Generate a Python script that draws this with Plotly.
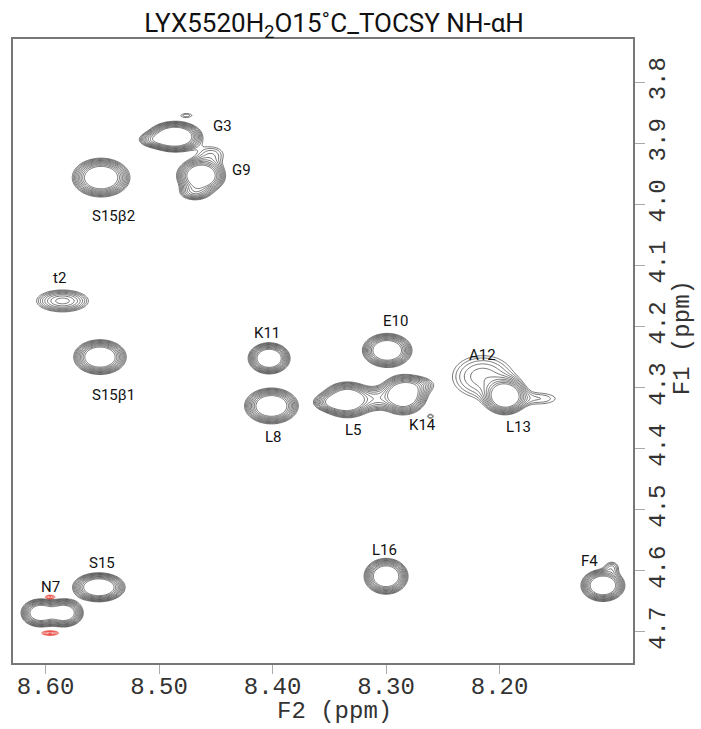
import numpy as np
import plotly.graph_objects as go

# ---- peak components (F2 ppm, F1 ppm, sigma F2, sigma F1, relative intensity) ----
comp_f2 = [8.486, 8.463, 8.551, 8.585, 8.552, 8.403, 8.401, 8.299, 8.334, 8.285,
           8.215, 8.195, 8.300, 8.109, 8.553, 8.6046, 8.5836,
           8.5046, 8.4757, 8.4686, 8.4536, 8.348, 8.2713, 8.2608, 8.1643, 8.1011, 8.309]
comp_f1 = [3.889, 3.953, 3.956, 4.158, 4.250, 4.252, 4.330, 4.239, 4.320, 4.312,
           4.282, 4.314, 4.609, 4.624, 4.627, 4.669, 4.669,
           3.894, 3.854, 3.980, 3.918, 4.324, 4.296, 4.347, 4.318, 4.594, 4.318]
comp_s2 = [0.0106, 0.0097, 0.0114, 0.0137, 0.0104, 0.0083, 0.0106, 0.0098, 0.0102, 0.0095,
           0.020, 0.0085, 0.0087, 0.0087, 0.0104, 0.0079, 0.0079,
           0.008, 0.006, 0.008, 0.010, 0.009, 0.009, 0.003, 0.016, 0.005, 0.008]
comp_s1 = [0.011, 0.013, 0.0143, 0.0108, 0.0128, 0.0115, 0.0132, 0.0125, 0.0132, 0.0147,
           0.026, 0.0135, 0.0132, 0.0118, 0.0107, 0.0107, 0.0107,
           0.007, 0.004, 0.008, 0.012, 0.008, 0.009, 0.004, 0.010, 0.008, 0.012]
comp_amp = [14, 12, 12, 4, 12, 12, 12, 12, 12, 12,
            2.4, 12, 12, 12, 12, 10, 10,
            3, 1.3, 3, 1.6, 4, 2, 1.4, 1.4, 1.6, 2.5]

# negative (red) components
neg_f2 = [8.5959, 8.5959]
neg_f1 = [4.643, 4.702]
neg_s2 = [0.004, 0.006]
neg_s1 = [0.003, 0.003]
neg_amp = [1.8, 2.2]

# ---- assignment labels ----
label_text = ["G3", "G9", "S15β2", "t2", "S15β1", "K11", "L8", "E10", "L5", "K14",
              "A12", "L13", "L16", "F4", "S15", "N7"]
label_f2 = [8.4441, 8.4273, 8.5401, 8.5874, 8.5401, 8.4047, 8.3994, 8.2915, 8.3284, 8.2678,
            8.2155, 8.1836, 8.3011, 8.1204, 8.5503, 8.5959]
label_f1 = [3.872, 3.944, 4.019, 4.121, 4.312, 4.211, 4.381, 4.191, 4.370, 4.361,
            4.247, 4.365, 4.566, 4.584, 4.587, 4.627]

x_ticks = [8.60, 8.50, 8.40, 8.30, 8.20]
x_ticktext = ["8.60", "8.50", "8.40", "8.30", "8.20"]
y_ticks = [3.8, 3.9, 4.0, 4.1, 4.2, 4.3, 4.4, 4.5, 4.6, 4.7]
y_ticktext = ["3.8", "3.9", "4.0", "4.1", "4.2", "4.3", "4.4", "4.5", "4.6", "4.7"]

X_RANGE = [8.6286, 8.0825]
Y_RANGE = [4.751, 3.729]

f2 = np.arange(8.08, 8.632, 0.001)
f1 = np.arange(3.725, 4.755, 0.0017)
F2, F1 = np.meshgrid(f2, f1)


def field(cx, cy, sx, sy, amp):
    z = np.zeros_like(F2)
    for a, b, c, d, e in zip(cx, cy, sx, sy, amp):
        z += e * np.exp(-0.5 * (((F2 - a) / c) ** 2 + ((F1 - b) / d) ** 2))
    return np.round(np.log10(z + 1e-6), 3)


zpos = field(comp_f2, comp_f1, comp_s2, comp_s1, comp_amp)
zneg = field(neg_f2, neg_f1, neg_s2, neg_s1, neg_amp)

fig = go.Figure()
fig.add_trace(go.Contour(
    x=f2, y=f1, z=zpos, showscale=False, hoverinfo="skip",
    contours=dict(start=0, end=0.72, size=0.08, coloring="lines"),
    colorscale=[[0, "#3a3a3a"], [1, "#3a3a3a"]],
    line=dict(width=0.7),
))
fig.add_trace(go.Contour(
    x=f2, y=f1, z=zneg, showscale=False, hoverinfo="skip",
    contours=dict(start=0, end=0.4, size=0.08, coloring="lines"),
    colorscale=[[0, "#e8403a"], [1, "#e8403a"]],
    line=dict(width=0.7),
))

for t, a, b in zip(label_text, label_f2, label_f1):
    fig.add_annotation(x=a, y=b, text=t, showarrow=False,
                       font=dict(family="Roboto", size=15, color="#111"))

axis_font = dict(family="Liberation Mono", size=24, color="#333")
fig.add_annotation(xref="paper", yref="paper", x=0.518, y=-0.078, yanchor="middle",
                   text="F2 (ppm)", showarrow=False, font=axis_font)
fig.add_annotation(xref="paper", yref="paper", x=1.079, y=0.522, xanchor="center",
                   yanchor="middle", text="F1 (ppm)", textangle=-90, showarrow=False,
                   font=axis_font)

fig.update_layout(
    width=701, height=729,
    margin=dict(l=11, r=68, t=39, b=66),
    paper_bgcolor="white", plot_bgcolor="white",
    showlegend=False,
    title=dict(text="LYX5520H<sub>2</sub>O15˚C_TOCSY NH-αH",
               x=0.4765, xanchor="center", xref="container", y=0.968, yanchor="middle",
               font=dict(family="Roboto", size=26, color="#111")),
    xaxis=dict(range=X_RANGE, tickvals=x_ticks, ticktext=x_ticktext,
               showgrid=False, zeroline=False, showline=True, mirror=True,
               linecolor="#777", linewidth=2, ticks="outside", ticklen=9,
               tickcolor="#aaa", tickwidth=1, tickfont=axis_font,
               ticklabelstandoff=-9),
    yaxis=dict(range=Y_RANGE, tickvals=y_ticks, ticktext=y_ticktext, side="right",
               showgrid=False, zeroline=False, showline=True, mirror=True,
               linecolor="#777", linewidth=2, ticks="outside", ticklen=10,
               tickcolor="#aaa", tickwidth=1, tickangle=-90, tickfont=axis_font,
               ticklabelstandoff=-9),
)

fig.write_html("out.html")
